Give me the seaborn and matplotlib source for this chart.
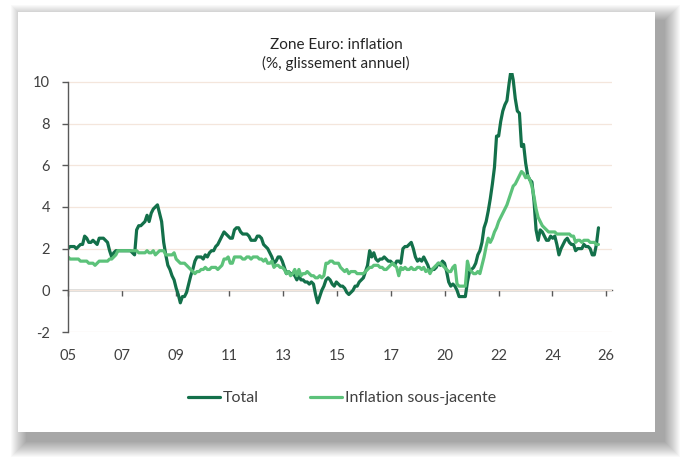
import numpy as np
import pandas as pd
import seaborn as sns
import matplotlib.pyplot as plt
from matplotlib.patches import Rectangle

# Zone Euro, glissement annuel en %, mensuel depuis janvier 2005
total = [
    2.0, 2.1, 2.1, 2.1, 2.0, 2.1, 2.2, 2.2, 2.6, 2.5, 2.3, 2.3,  # 2005
    2.4, 2.3, 2.2, 2.5, 2.5, 2.5, 2.4, 2.3, 1.9, 1.6, 1.8, 1.9,  # 2006
    1.9, 1.9, 1.9, 1.9, 1.9, 1.9, 1.9, 1.8, 1.7, 2.9, 3.1, 3.1,  # 2007
    3.2, 3.3, 3.6, 3.3, 3.7, 3.9, 4.0, 4.1, 3.7, 3.3, 2.3, 1.7,  # 2008
    1.2, 1.0, 0.7, 0.5, 0.1, -0.2, -0.6, -0.3, -0.3, -0.1, 0.3, 0.7,  # 2009
    1.0, 1.4, 1.6, 1.6, 1.6, 1.5, 1.7, 1.6, 1.8, 1.9, 1.9, 2.1,  # 2010
    2.2, 2.4, 2.6, 2.8, 2.7, 2.6, 2.5, 2.5, 2.9, 3.0, 3.0, 2.8,  # 2011
    2.7, 2.7, 2.7, 2.6, 2.4, 2.4, 2.4, 2.6, 2.6, 2.5, 2.2, 2.1,  # 2012
    2.0, 1.8, 1.6, 1.3, 1.4, 1.6, 1.6, 1.4, 1.1, 0.8, 0.9, 0.8,  # 2013
    0.8, 0.7, 0.5, 0.7, 0.5, 0.5, 0.4, 0.4, 0.3, 0.4, 0.3, -0.2,  # 2014
    -0.6, -0.3, 0.0, 0.2, 0.5, 0.6, 0.5, 0.3, 0.2, 0.4, 0.3, 0.2,  # 2015
    0.2, 0.1, -0.1, -0.2, -0.1, 0.0, 0.2, 0.2, 0.4, 0.5, 0.6, 0.9,  # 2016
    1.2, 1.9, 1.6, 1.8, 1.5, 1.4, 1.5, 1.5, 1.6, 1.5, 1.4, 1.4,  # 2017
    1.3, 1.2, 1.4, 1.4, 1.3, 2.0, 2.1, 2.1, 2.2, 2.3, 2.0, 1.6,  # 2018
    1.4, 1.5, 1.4, 1.6, 1.4, 1.2, 0.9, 1.0, 1.0, 1.1, 1.3, 1.2,  # 2019
    1.4, 1.3, 0.9, 0.4, 0.2, 0.3, 0.2, 0.0, -0.3, -0.3, -0.3, -0.3,  # 2020
    0.4, 0.9, 1.0, 1.1, 1.3, 1.7, 1.9, 2.3, 3.0, 3.3, 3.8, 4.4,  # 2021
    5.1, 5.9, 7.4, 7.4, 8.1, 8.6, 8.9, 9.1, 9.9, 10.6, 10.1, 9.2,  # 2022
    8.6, 8.5, 6.9, 7.0, 6.1, 5.5, 5.3, 5.2, 4.3, 2.9, 2.4, 2.9,  # 2023
    2.8, 2.6, 2.4, 2.4, 2.6, 2.5, 2.6, 2.2, 1.7, 2.0, 2.2, 2.4,  # 2024
    2.5, 2.3, 2.2, 2.2, 1.9, 2.0, 2.0, 2.0, 2.2, 2.1, 2.1, 2.0,  # 2025
    1.7, 1.7, 2.2, 3.0,  # 2026
]

sous_jacente = [
    1.6, 1.5, 1.5, 1.5, 1.5, 1.5, 1.4, 1.4, 1.4, 1.4, 1.3, 1.3,  # 2005
    1.3, 1.2, 1.3, 1.4, 1.4, 1.4, 1.4, 1.4, 1.5, 1.5, 1.6, 1.7,  # 2006
    1.9, 1.9, 1.9, 1.9, 1.9, 1.9, 1.9, 1.9, 1.9, 1.9, 1.8, 1.8,  # 2007
    1.8, 1.8, 1.9, 1.8, 1.8, 1.9, 1.7, 1.8, 1.9, 1.9, 1.9, 1.7,  # 2008
    1.7, 1.7, 1.7, 1.8, 1.5, 1.4, 1.3, 1.3, 1.3, 1.2, 1.1, 1.0,  # 2009
    0.9, 0.8, 0.9, 0.9, 1.0, 1.0, 1.1, 1.0, 1.0, 1.1, 1.1, 1.1,  # 2010
    1.0, 1.1, 1.2, 1.5, 1.5, 1.6, 1.3, 1.3, 1.6, 1.6, 1.6, 1.6,  # 2011
    1.5, 1.5, 1.6, 1.6, 1.5, 1.6, 1.6, 1.6, 1.5, 1.5, 1.4, 1.5,  # 2012
    1.3, 1.3, 1.4, 1.1, 1.2, 1.2, 1.1, 1.1, 1.0, 0.8, 0.9, 0.7,  # 2013
    0.8, 1.0, 0.7, 1.0, 0.7, 0.8, 0.8, 0.9, 0.8, 0.7, 0.7, 0.6,  # 2014
    0.6, 0.7, 0.6, 0.7, 1.3, 1.3, 1.4, 1.4, 1.3, 1.3, 1.3, 1.1,  # 2015
    1.0, 0.9, 1.0, 0.8, 0.9, 0.9, 0.9, 0.8, 0.8, 0.8, 0.8, 0.9,  # 2016
    1.0, 1.1, 1.1, 1.2, 1.2, 1.2, 1.1, 1.1, 1.0, 1.0, 1.1, 1.2,  # 2017
    1.3, 1.2, 1.1, 0.7, 1.1, 1.0, 1.1, 1.0, 1.0, 1.1, 1.0, 1.0,  # 2018
    1.1, 1.1, 1.0, 1.1, 0.9, 1.0, 0.8, 1.0, 1.1, 1.2, 1.3, 1.3,  # 2019
    1.2, 1.1, 1.0, 0.9, 0.9, 1.1, 1.2, 0.3, 0.2, 0.2, 0.2, 0.2,  # 2020
    1.4, 1.0, 0.9, 0.8, 0.8, 0.9, 0.8, 1.2, 1.6, 2.1, 2.5, 2.3,  # 2021
    2.5, 2.8, 3.0, 3.3, 3.5, 3.7, 3.9, 4.1, 4.4, 4.7, 5.0, 5.1,  # 2022
    5.3, 5.5, 5.7, 5.6, 5.4, 5.5, 5.3, 5.0, 4.5, 3.9, 3.5, 3.3,  # 2023
    3.1, 3.0, 2.9, 2.8, 2.8, 2.8, 2.8, 2.7, 2.7, 2.7, 2.7, 2.7,  # 2024
    2.7, 2.7, 2.6, 2.6, 2.3, 2.4, 2.4, 2.3, 2.4, 2.4, 2.4, 2.3,  # 2025
    2.3, 2.3, 2.2, 2.2,  # 2026
]

x_labels = ["05", "07", "09", "11", "13", "15", "17", "20", "22", "24", "26"]
y_ticks = [-2, 0, 2, 4, 6, 8, 10]

df = pd.DataFrame({"mois": np.arange(len(total)), "total": total, "core": sous_jacente})

DARK = "#13704a"
LIGHT = "#5cc27a"
TXT = "#404040"

sns.set_style("white")
plt.rcParams["font.family"] = ["Lato", "DejaVu Sans"]

W, H = 681, 472
fig = plt.figure(figsize=(W / 100, H / 100), dpi=100)

# card with soft drop shadow (mostly right / bottom)
cx0, cy0, cx1, cy1 = 18, 12, 655, 432
for r in range(16, 0, -1):
    fig.patches.append(Rectangle(((cx0 + 9 - r) / W, 1 - (cy1 + 9 + r) / H),
                                 (cx1 - cx0 + 2 * r) / W, (cy1 - cy0 + 2 * r) / H,
                                 transform=fig.transFigure, facecolor="black",
                                 edgecolor="none", alpha=0.022, zorder=0))
fig.patches.append(Rectangle((cx0 / W, 1 - cy1 / H), (cx1 - cx0) / W, (cy1 - cy0) / H,
                             transform=fig.transFigure, facecolor="white",
                             edgecolor="none", zorder=1))

ax = fig.add_axes([68 / W, 1 - 332 / H, (612 - 68) / W, (332 - 72.5) / H])
ax.set_facecolor("none")
ax.set_zorder(2)

sns.lineplot(data=df, x="mois", y="total", color=DARK, linewidth=2.3, label="Total", ax=ax)
sns.lineplot(data=df, x="mois", y="core", color=LIGHT, linewidth=2.3,
             label="Inflation sous-jacente", ax=ax)

ax.set_xlim(0, 261.5)
ax.set_ylim(-2, 10.45)
ax.set_xlabel("")
ax.set_ylabel("")

# y axis
ax.set_yticks(y_ticks)
ax.set_yticklabels([str(v) for v in y_ticks])
ax.spines["left"].set_bounds(-2, 10)
ax.spines["left"].set_color("#595959")
ax.spines["left"].set_linewidth(1.0)
for s in ["top", "right", "bottom"]:
    ax.spines[s].set_visible(False)
ax.tick_params(axis="y", direction="out", length=4, width=1.0, color="#595959",
               labelsize=10.5, labelcolor=TXT, pad=9, left=True)
ax.grid(axis="y", color="#f4e6dc", linewidth=0.9)
ax.grid(axis="x", visible=False)

# x labels at the bottom, tick marks on the zero line
xt = np.linspace(0, 258.7, len(x_labels))
ax.set_xticks(xt)
ax.set_xticklabels(x_labels)
ax.tick_params(axis="x", length=0, labelsize=10.5, labelcolor=TXT, pad=12)

zero = ax.secondary_xaxis(0, transform=ax.transData)
zero.set_xticks(xt)
zero.set_xticklabels([])
zero.tick_params(axis="x", direction="out", length=4, width=1.0, color="#595959")
zero.spines["bottom"].set_color("#595959")
zero.spines["bottom"].set_linewidth(1.0)

# title
fig.text(336 / W, 1 - 45 / H, "Zone Euro: inflation", ha="center", va="center",
         fontsize=11, color="#262626")
fig.text(336 / W, 1 - 63 / H, "(%, glissement annuel)", ha="center", va="center",
         fontsize=11, color="#262626")

# legend
h, l = ax.get_legend_handles_labels()
ax.legend(h, l, ncol=2, frameon=False, loc="center",
          bbox_to_anchor=(342 / W, 1 - 398 / H), bbox_transform=fig.transFigure,
          fontsize=11.5, handlelength=2.0, handletextpad=0.2, columnspacing=3.2,
          labelcolor=TXT)

fig.savefig("out.png", dpi=100)
